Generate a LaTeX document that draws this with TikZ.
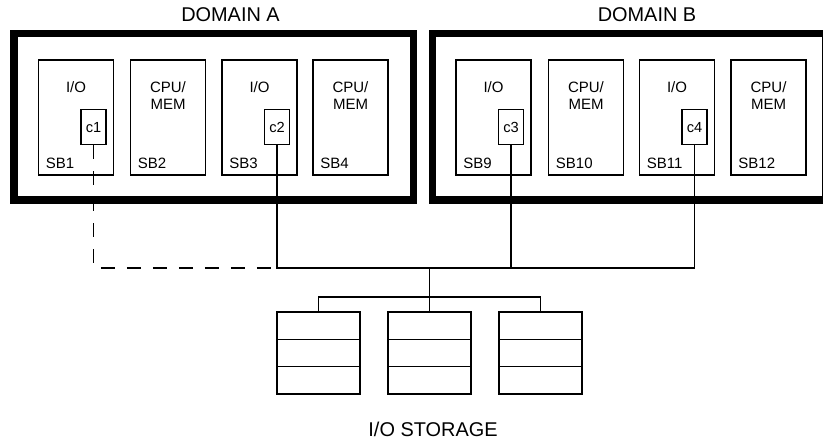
\documentclass[tikz,border=0pt]{standalone}
\usepackage{fontspec}
\setmainfont{Liberation Sans}
\usepackage{tikz}
\usetikzlibrary{positioning}

\begin{document}
\begin{tikzpicture}[x=0.3mm, y=0.3mm,
    domainbox/.style={draw, line width=6pt, inner sep=0pt, minimum height=49.95mm},
    sbbox/.style={draw, line width=1.3pt, inner sep=0pt, minimum width=22.5mm, minimum height=34.5mm},
    cardbox/.style={draw, line width=1.3pt, inner sep=0pt, minimum width=7.5mm, minimum height=10.5mm,
        font=\fontsize{12.5}{14.5}\selectfont},
    diskbox/.style={draw, line width=1.3pt, inner sep=0pt, minimum width=24.9mm, minimum height=8.19mm},
    title/.style={font=\fontsize{17}{18}\selectfont, inner sep=0pt},
    sbtext/.style={font=\fontsize{12.8}{14.5}\selectfont, align=center, inner sep=0pt},
    wire/.style={line width=1.3pt}]
    \useasboundingbox (0,0) rectangle (823,442);

    % 1. Hai miền (domain)
    \node[domainbox, minimum width=119.85mm] (domA) at (213.75,325.25) {};
    \node[domainbox, minimum width=118.05mm] (domB) at (629.25,325.25) {};
    \node[title] (titleA) at (230.5,427.5) {DOMAIN A};
    \node[title] (titleB) at (647,427.5) {DOMAIN B};

    % 2. Các system board
    \foreach \n/\x in {1/76, 2/168, 3/259.5, 4/350.5, 9/493.5, 10/586, 11/677, 12/768.5} {
        \node[sbbox] (sb\n) at (\x,324.5) {};
        \node[sbtext, anchor=west] (sbname\n) at ([xshift=2.4mm, yshift=3.6mm]sb\n.south west) {SB\n};
    }
    \foreach \n in {1,3,9,11}
        \node[sbtext] (sbkind\n) at ([yshift=-8.4mm]sb\n.north) {I/O};
    \foreach \n in {2,4,10,12}
        \node[sbtext] (sbkind\n) at ([yshift=-10.95mm]sb\n.north) {CPU/\\MEM};

    % 3. Các card c1..c4
    \foreach \c/\n in {1/1, 2/3, 3/9, 4/11}
        \node[cardbox, anchor=east, text depth=-0.6mm] (c\c) at ([xshift=-2.25mm, yshift=-2.85mm]sb\n.east) {c\c};

    % 4. Bộ lưu trữ I/O
    \foreach \k/\x in {1/318.5, 2/429.5, 3/540.5}
        \foreach \r in {1,2,3}
            \node[diskbox] (disk\k-\r) at (\x,{116.35-27.3*(\r-1)}) {};
    \node[title] (storagelbl) at (433,13) {I/O STORAGE};

    % 5. Đường nối
    \coordinate (busline) at (0,174);
    \coordinate (branchline) at (0,145);
    \draw[wire] (c2.south) -- (c2 |- busline) -- (c4 |- busline) -- (c4.south);
    \draw[wire] (c3.south) -- (c3 |- busline);
    \draw[wire, dash pattern=on 4.2mm off 3.6mm] (c1.south) |- (c2 |- busline);
    \draw[wire] (disk2-1.north |- busline) -- (disk2-1.north);
    \draw[wire] (disk1-1.north) -- (disk1-1.north |- branchline)
        -- (disk3-1.north |- branchline) -- (disk3-1.north);
\end{tikzpicture}
\end{document}
